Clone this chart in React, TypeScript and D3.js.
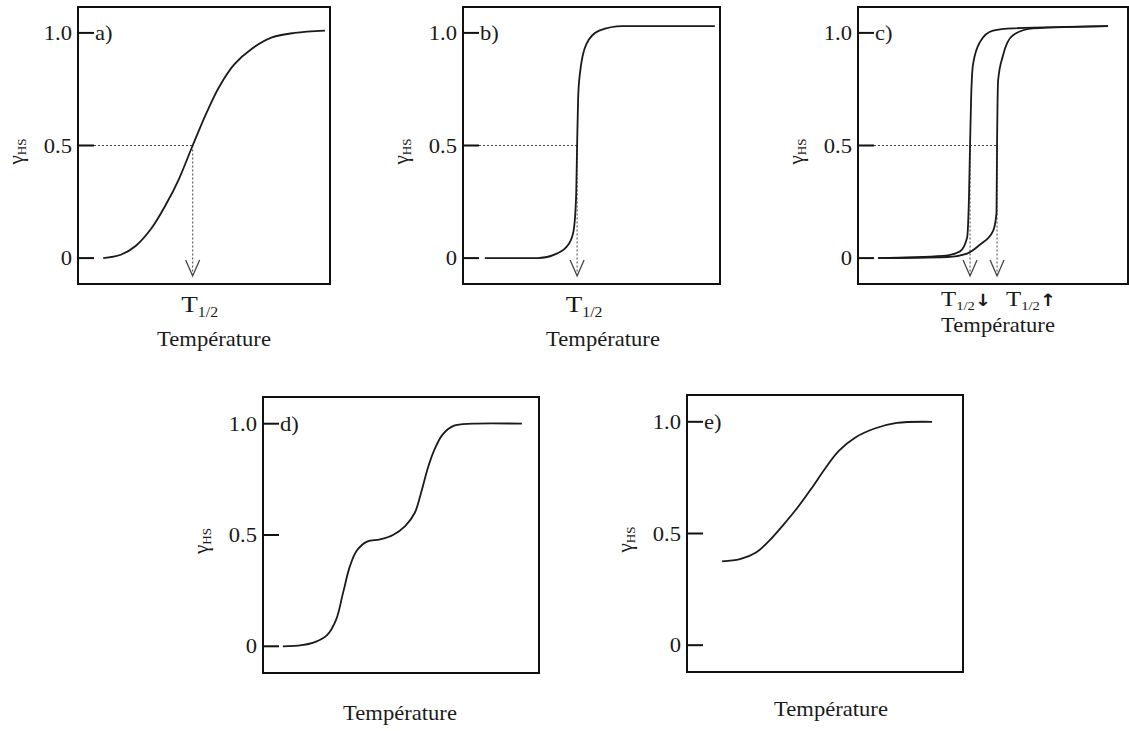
import React from "react";
import * as d3 from "d3";

// ---- data (temperature in arbitrary units 0–100, y = fraction HS) ----
const yTickValues = [0, 0.5, 1.0];
const yTickLabels = ["0", "0.5", "1.0"];
const panelLetters = ["a)", "b)", "c)", "d)", "e)"];
const xLabel = "Température";

const curveA: [number, number][] = [
  [10, 0], [17, 0.015], [23, 0.055], [29, 0.13], [35, 0.24], [40, 0.35], [45.5, 0.5],
  [51, 0.645], [56, 0.76], [62, 0.86], [69, 0.93], [77, 0.98], [86, 1.0], [98, 1.01],
];
const curveB: [number, number][] = [
  [8.5, 0], [29, 0], [36.5, 0.02], [41, 0.06], [43, 0.12], [44, 0.27],
  [44.4, 0.5], [44.8, 0.71], [45.5, 0.82], [48, 0.95], [53, 1.01], [62, 1.03], [98, 1.03],
];
const curveCdown: [number, number][] = [
  [7.4, 0], [31.5, 0.01], [37.8, 0.03], [40.4, 0.09], [41.1, 0.27], [41.5, 0.5],
  [41.9, 0.71], [42.6, 0.86], [45.2, 0.96], [50, 1.01], [57.4, 1.02], [92.6, 1.03],
];
const curveCup: [number, number][] = [
  [7.4, 0], [33, 0.005], [40.4, 0.02], [45.2, 0.06], [50, 0.12], [51.3, 0.2],
  [51.5, 0.5], [51.9, 0.79], [53.7, 0.9], [57.4, 0.99], [64.8, 1.02], [92.6, 1.03],
];
const curveD: [number, number][] = [
  [7.2, 0], [14, 0.005], [19, 0.02], [23.2, 0.05], [26.5, 0.12], [29, 0.24], [31.5, 0.36],
  [34, 0.43], [37.7, 0.47], [42.4, 0.48], [47.1, 0.5], [51.5, 0.54], [55, 0.6],
  [57.5, 0.7], [59.7, 0.8], [62, 0.88], [65, 0.95], [69, 0.99], [76.1, 1.0], [93.8, 1.0],
];
const curveE: [number, number][] = [
  [12.7, 0.375], [19.2, 0.385], [25, 0.415], [30, 0.47], [35, 0.54], [40, 0.615],
  [45, 0.7], [50, 0.79], [55, 0.87], [61, 0.93], [68, 0.97], [76, 0.995], [88.8, 1.0],
];
// half-transition temperatures
const tHalfA = [45.5];
const tHalfB = [44.4];
const tHalfC = [41.5, 51.5];
const tHalfLabelsC = ["↓", "↑"];

const FONT = "'Liberation Serif', 'Times New Roman', serif";
const SX = 1.13;

type Box = { x: number; y: number; w: number; h: number };

function Txt({ x, y, size, anchor = "start", children }: any) {
  return (
    <text
      transform={`translate(${x},${y}) scale(${SX},1)`}
      fontFamily={FONT}
      fontSize={size}
      textAnchor={anchor}
      fill="#1a1a1a"
    >
      {children}
    </text>
  );
}

function Panel({
  box, letter, curves, tHalf, tLabelY, tLabelX, tSuffix, xl, yDomain, smooth,
}: {
  box: Box; letter: string; curves: [number, number][][]; tHalf: number[];
  tLabelY?: number; tLabelX?: number[]; tSuffix?: string[]; xl: { x: number; y: number };
  yDomain: [number, number]; smooth: boolean;
}) {
  const x = d3.scaleLinear().domain([0, 100]).range([box.x, box.x + box.w]);
  const y = d3.scaleLinear().domain(yDomain).range([box.y + box.h, box.y]);
  const line = d3
    .line<[number, number]>()
    .x((d) => x(d[0]))
    .y((d) => y(d[1]))
    .curve(smooth ? d3.curveCatmullRom.alpha(0.5) : d3.curveMonotoneX);
  const tickLen = 16;
  const arrowTip = box.y + box.h - 8;
  return (
    <g>
      <rect x={box.x} y={box.y} width={box.w} height={box.h} fill="none" stroke="#111" strokeWidth={2} />
      {yTickValues.map((v, i) => (
        <g key={i}>
          <line x1={box.x} x2={box.x + tickLen} y1={y(v)} y2={y(v)} stroke="#111" strokeWidth={2} />
          <Txt x={box.x - 6} y={y(v) + 7} size={20} anchor="end">
            {yTickLabels[i]}
          </Txt>
        </g>
      ))}
      <Txt x={box.x + tickLen + 1} y={y(1) + 7} size={20}>
        {letter}
      </Txt>
      <text
        transform={`translate(${box.x - 55},${y(0.5) + 6}) rotate(-90)`}
        fontFamily={FONT}
        fontSize={21}
        textAnchor="middle"
        fill="#1a1a1a"
      >
        γ<tspan fontSize={13} dy={3}>HS</tspan>
      </text>
      {tHalf.length > 0 && (
        <line
          x1={box.x + tickLen}
          x2={x(d3.max(tHalf) as number)}
          y1={y(0.5)}
          y2={y(0.5)}
          stroke="#444"
          strokeWidth={1}
          strokeDasharray="2,2"
        />
      )}
      {tHalf.map((t, i) => (
        <g key={i} stroke="#444" fill="none">
          <line x1={x(t)} x2={x(t)} y1={y(0.5)} y2={arrowTip} strokeWidth={1} strokeDasharray="2,2" />
          <polyline
            points={`${x(t) - 7},${arrowTip - 16} ${x(t)},${arrowTip} ${x(t) + 7},${arrowTip - 16}`}
            strokeWidth={1.3}
          />
        </g>
      ))}
      {curves.map((c, i) => (
        <path key={i} d={line(c) || ""} fill="none" stroke="#1a1a1a" strokeWidth={1.8} />
      ))}
      {tHalf.map((t, i) =>
        tSuffix ? (
          <Txt key={i} x={tLabelX ? tLabelX[i] : x(t)} y={tLabelY} size={22} anchor="start">
            T<tspan fontSize={13} dy={4}>1/2</tspan>
            <tspan fontSize={17} dy={-4} fontFamily="'DejaVu Sans', sans-serif" fontWeight="bold" fill="#1a1a1a">
              {tSuffix[i] + "\uFE0E"}
            </tspan>
          </Txt>
        ) : (
          <Txt key={i} x={x(t) + 7} y={tLabelY} size={24} anchor="middle">
            T<tspan fontSize={14} dy={5}>1/2</tspan>
          </Txt>
        )
      )}
      <Txt x={xl.x} y={xl.y} size={20} anchor="middle">
        {xLabel}
      </Txt>
    </g>
  );
}

export default function App() {
  const topDomain: [number, number] = [-0.115, 1.115];
  const botDomain: [number, number] = [-0.12, 1.12];
  return (
    <svg width={1129} height={731} style={{ position: "absolute", left: 0, top: 0, background: "#fff" }}>
      <rect width={1129} height={731} fill="#fff" />
      <Panel box={{ x: 78, y: 7, w: 252, h: 277 }} letter={panelLetters[0]} curves={[curveA]} tHalf={tHalfA}
        tLabelY={312} xl={{ x: 214, y: 346 }} yDomain={topDomain} smooth={true} />
      <Panel box={{ x: 463, y: 7, w: 257, h: 277 }} letter={panelLetters[1]} curves={[curveB]} tHalf={tHalfB}
        tLabelY={312} xl={{ x: 603, y: 346 }} yDomain={topDomain} smooth={false} />
      <Panel box={{ x: 858, y: 7, w: 270, h: 277 }} letter={panelLetters[2]} curves={[curveCdown, curveCup]}
        tHalf={tHalfC} tSuffix={tHalfLabelsC} tLabelX={[941, 1006]} tLabelY={306} xl={{ x: 998, y: 332 }}
        yDomain={topDomain} smooth={false} />
      <Panel box={{ x: 263, y: 397, w: 276, h: 276 }} letter={panelLetters[3]} curves={[curveD]} tHalf={[]}
        xl={{ x: 400, y: 720 }} yDomain={botDomain} smooth={true} />
      <Panel box={{ x: 687, y: 395, w: 276, h: 277 }} letter={panelLetters[4]} curves={[curveE]} tHalf={[]}
        xl={{ x: 831, y: 716 }} yDomain={botDomain} smooth={true} />
    </svg>
  );
}
